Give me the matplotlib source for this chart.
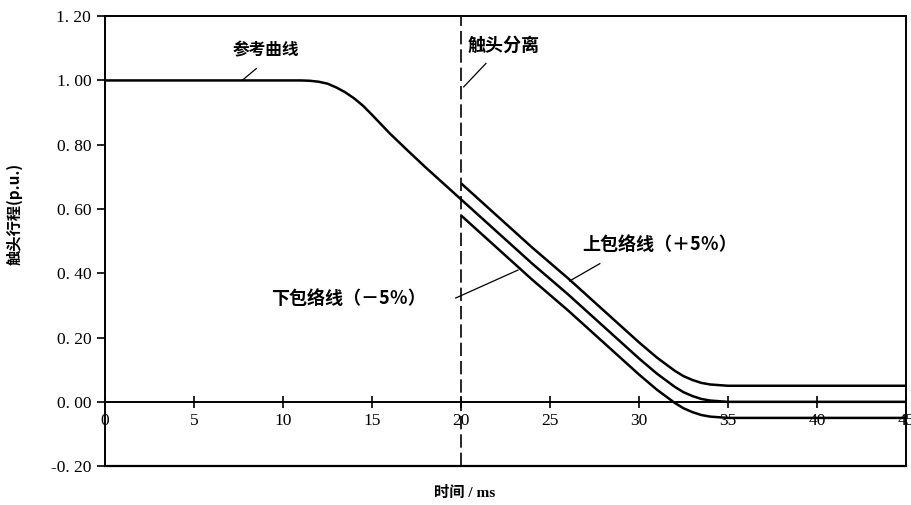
import matplotlib.pyplot as plt

# reference travel curve (p.u.) vs time (ms)
t_ref = [0, 5, 10, 11, 11.5, 12, 12.5, 13, 13.5, 14, 14.5, 15, 16, 17, 18, 20,
         22, 24, 26, 28, 30, 31, 32, 32.5, 33, 33.5, 34, 35, 36, 40, 45]
ref = [1.0, 1.0, 1.0, 1.0, 0.999, 0.996, 0.99, 0.978, 0.963, 0.944, 0.921, 0.893,
       0.835, 0.782, 0.73, 0.63, 0.53, 0.43, 0.335, 0.235, 0.135, 0.088, 0.047,
       0.03, 0.018, 0.009, 0.004, 0.0, 0.0, 0.0, 0.0]

# envelopes (+5% / -5%) starting at contact separation
t_env = [20, 22, 24, 26, 28, 30, 31, 32, 32.5, 33, 33.5, 34, 35, 36, 40, 45]
upper = [0.68, 0.58, 0.48, 0.385, 0.285, 0.185, 0.138, 0.097, 0.08, 0.068, 0.059,
         0.054, 0.05, 0.05, 0.05, 0.05]
lower = [0.58, 0.48, 0.38, 0.285, 0.185, 0.085, 0.038, -0.003, -0.02, -0.032,
         -0.041, -0.046, -0.05, -0.05, -0.05, -0.05]

x_ticks = [0, 5, 10, 15, 20, 25, 30, 35, 40, 45]
y_ticks = [-0.2, 0.0, 0.2, 0.4, 0.6, 0.8, 1.0, 1.2]
t_sep = 20

cjk = ['Noto Sans CJK SC', 'DejaVu Sans']
serif = ['Liberation Serif', 'DejaVu Serif']

fig = plt.figure(figsize=(9.11, 5.05), dpi=100)
ax = fig.add_axes([0.1153, 0.077, 0.8792, 0.891])

ax.plot(t_ref, ref, color='black', lw=1.8, solid_capstyle='butt')
ax.plot(t_env, upper, color='black', lw=1.8, solid_capstyle='butt')
ax.plot(t_env, lower, color='black', lw=1.8, solid_capstyle='butt')

ax.axvline(t_sep, color='black', lw=1.2, linestyle=(0, (8, 3)))

ax.set_xlim(0, 45)
ax.set_ylim(-0.2, 1.2)

# x axis drawn at y = 0, frame closed at y = -0.2
ax.spines['bottom'].set_position(('data', 0))
ax.axhline(-0.2, color='black', lw=1.6, clip_on=False)
for s in ['left', 'right', 'top', 'bottom']:
    ax.spines[s].set_linewidth(1.4)

ax.set_xticks(x_ticks)
ax.set_xticklabels([str(v) for v in x_ticks], family=serif, fontsize=12.5)
ax.set_yticks(y_ticks)
ax.set_yticklabels([('%.2f' % v).replace('.', '. ') for v in y_ticks],
                   family=serif, fontsize=12.5)
ax.tick_params(axis='x', direction='inout', length=8, width=1.2, pad=4)
ax.tick_params(axis='y', direction='out', length=6, width=1.2, pad=4)
for lab in ax.get_xticklabels():
    lab.set_bbox(dict(facecolor='white', edgecolor='none', pad=1))

# annotations
ax.text(9.05, 1.094, '参考曲线', family=cjk, fontsize=12, weight='bold',
        ha='center', va='center')
ax.plot([8.5, 7.7], [1.037, 1.0], color='black', lw=0.9)

ax.text(20.35, 1.11, '触头分离', family=cjk, fontsize=13, weight='bold',
        ha='left', va='center')
ax.plot([21.4, 20.15], [1.053, 0.98], color='black', lw=0.9)

ax.text(26.8, 0.489, '上包络线（＋5％）', family=cjk, fontsize=13, weight='bold',
        ha='left', va='center')
ax.plot([27.8, 26.1], [0.43, 0.376], color='black', lw=0.9)

ax.text(9.3, 0.32, '下包络线（－5％）', family=cjk, fontsize=13, weight='bold',
        ha='left', va='center')
ax.plot([19.7, 23.2], [0.323, 0.41], color='black', lw=0.9)

fig.text(15 / 911, 1 - 214 / 505, '触头行程(p.u.)', family=cjk, fontsize=11,
         weight='bold', rotation=90, ha='center', va='center')
fig.text(465 / 911, 1 - 493 / 505, '时间 / ms',
         family=['Liberation Serif', 'Noto Sans CJK SC'], fontsize=11,
         weight='bold', ha='center', va='center')

plt.savefig('out.png', dpi=100)
